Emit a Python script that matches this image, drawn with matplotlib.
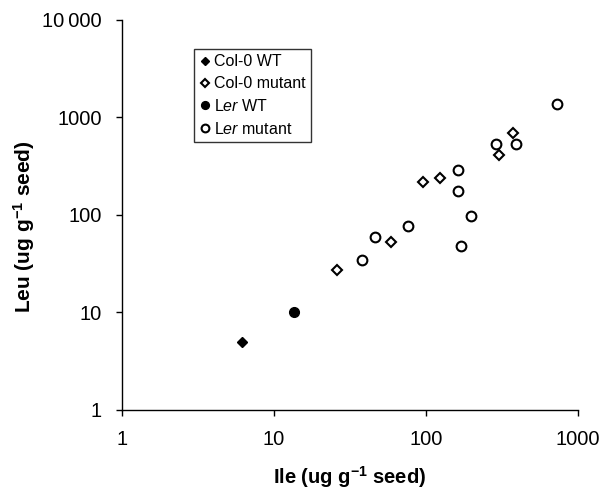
import matplotlib
matplotlib.use("Agg")
import matplotlib.pyplot as plt

plt.rcParams['font.family'] = ['Liberation Sans', 'DejaVu Sans']
plt.rcParams['mathtext.fontset'] = 'custom'
plt.rcParams['mathtext.rm'] = 'Liberation Sans'
plt.rcParams['mathtext.it'] = 'Liberation Sans:italic'
plt.rcParams['mathtext.bf'] = 'Liberation Sans:bold'

# Ile (x) and Leu (y), ug g-1 seed
col_wt_ile = [6.2]
col_wt_leu = [4.95]
col_mut_ile = [26, 59, 96, 124, 302, 377]
col_mut_leu = [27.3, 52.9, 218, 240, 410, 689]
ler_wt_ile = [13.7]
ler_wt_leu = [10.2]
ler_mut_ile = [38.3, 46.2, 76.5, 162, 162, 172, 199, 289, 391, 728]
ler_mut_leu = [34.8, 60, 77.7, 292, 175, 47.7, 98, 535, 535, 1375]

x_ticks = [1, 10, 100, 1000]
x_ticklabels = ['1', '10', '100', '1000']
y_ticks = [1, 10, 100, 1000, 10000]
y_ticklabels = ['1', '10', '100', '1000', '10\u2009000']

fig = plt.figure(figsize=(6.07, 4.91), dpi=100)
ax = fig.add_axes([0.2005, 0.165, 0.7512, 0.7943])

ax.plot(col_wt_ile, col_wt_leu, 'D', ms=5.5, mfc='black', mec='black', mew=1.0,
        ls='none', label='Col-0 WT')
ax.plot(col_mut_ile, col_mut_leu, 'D', ms=5.3, mfc='white', mec='black', mew=1.5,
        ls='none', label='Col-0 mutant')
ax.plot(ler_wt_ile, ler_wt_leu, 'o', ms=7, mfc='black', mec='black', mew=1.0,
        ls='none', label=r'L$\it{er}$ WT')
ax.plot(ler_mut_ile, ler_mut_leu, 'o', ms=7, mfc='white', mec='black', mew=1.5,
        ls='none', label=r'L$\it{er}$ mutant')

ax.set_xscale('log')
ax.set_yscale('log')
ax.set_xlim(1, 1000)
ax.set_ylim(1, 10000)
ax.set_xticks(x_ticks)
ax.set_xticklabels(x_ticklabels)
ax.set_yticks(y_ticks)
ax.set_yticklabels(y_ticklabels)
ax.minorticks_off()

for side in ['top', 'right']:
    ax.spines[side].set_visible(False)
for side in ['left', 'bottom']:
    ax.spines[side].set_linewidth(1.0)

ax.tick_params(axis='both', direction='out', length=4.5, width=1.0,
               labelsize=14.5)
ax.tick_params(axis='y', pad=10)
ax.tick_params(axis='x', pad=10)

ax.set_xlabel(r'Ile (ug g$^{\mathbf{-1}}$ seed)', fontsize=14.5, fontweight='bold')
ax.set_ylabel(r'Leu (ug g$^{\mathbf{-1}}$ seed)', fontsize=15, fontweight='bold')
ax.xaxis.set_label_coords(0.5, -0.172)
ax.xaxis.label.set_va('center')
ax.yaxis.set_label_coords(-0.214, 0.47)
ax.yaxis.label.set_va('center')

leg = ax.legend(loc='upper left', bbox_to_anchor=(0.159, 0.926), borderaxespad=0,
                fontsize=11.5, frameon=True, fancybox=False, edgecolor='black',
                markerscale=0.8, handlelength=0.6, handletextpad=0.3,
                labelspacing=0.42, borderpad=0.35)
leg.get_frame().set_linewidth(1.0)

fig.savefig('out.png', dpi=100)
